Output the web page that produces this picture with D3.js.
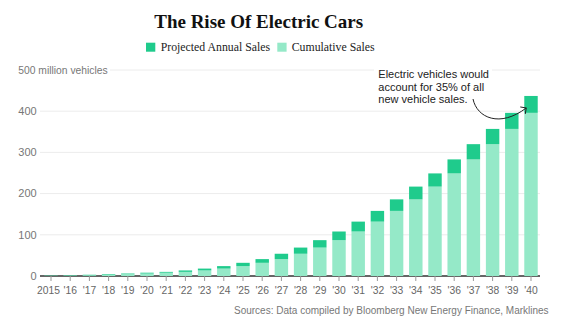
<!DOCTYPE html>
<html>
<head>
<meta charset="utf-8">
<script src="https://cdn.jsdelivr.net/npm/d3@7/dist/d3.min.js"></script>
<style>
  html, body { margin: 0; padding: 0; background: #fff; }
  svg { display: block; }
</style>
</head>
<body>
<svg id="chart" width="561" height="323"></svg>
<script>
// Years shown on the axis
const years = ["2015","'16","'17","'18","'19","'20","'21","'22","'23","'24","'25","'26","'27",
               "'28","'29","'30","'31","'32","'33","'34","'35","'36","'37","'38","'39","'40"];
// Cumulative EV sales through the prior year (million vehicles)
const cumulative = [0.6, 1.2, 2, 3, 4.5, 6, 8, 10, 13.5, 18, 24, 32, 41,
                    54, 69, 87, 108, 132, 158, 186, 217, 249, 283, 320, 357, 396];
// Projected sales in the year itself (million vehicles)
const annual = [0.6, 0.8, 1, 1.5, 1.5, 2, 2, 3.5, 4.5, 6, 8, 9, 13,
                15, 18, 21, 24, 26, 28, 31, 32, 34, 37, 37, 39, 41];
const yTicks = [0, 100, 200, 300, 400, 500];
const seriesNames = ["Projected Annual Sales", "Cumulative Sales"];
const seriesColors = ["#1fcb8c", "#95e9c8"];

const svg = d3.select("#chart");
const sans = "'Liberation Sans', Arial, sans-serif";
const serif = "'Liberation Serif', 'Times New Roman', serif";

const x = d3.scaleBand().domain(years).range([41.4, 540.6]).paddingInner(0.3).paddingOuter(0.15);
const y = d3.scaleLinear().domain([0, 500]).range([276, 70]);

// Title
svg.append("text")
  .attr("x", 258.7).attr("y", 28)
  .attr("text-anchor", "middle")
  .style("font-family", serif).style("font-weight", "bold").style("font-size", "19px")
  .attr("fill", "#111")
  .text("The Rise Of Electric Cars");

// Legend
const legendPos = [{sx: 146, tx: 160.7}, {sx: 277.3, tx: 291.7}];
seriesNames.forEach((name, i) => {
  svg.append("rect").attr("x", legendPos[i].sx).attr("y", 42.7).attr("width", 9.3).attr("height", 9)
    .attr("fill", seriesColors[i]);
  svg.append("text").attr("x", legendPos[i].tx).attr("y", 51)
    .style("font-family", serif).style("font-size", "11.8px").attr("fill", "#222")
    .text(name);
});

// Gridlines
svg.append("g").selectAll("line").data(yTicks.filter(t => t > 0)).join("line")
  .attr("x1", d => d === 500 ? 110 : 40).attr("x2", 540)
  .attr("y1", d => y(d)).attr("y2", d => y(d))
  .attr("stroke", "#ececec").attr("stroke-width", 1);

// Y labels
svg.append("g").selectAll("text").data(yTicks).join("text")
  .attr("x", d => d === 500 ? 18.3 : 36.7)
  .attr("y", d => y(d)).attr("dy", "0.35em")
  .attr("text-anchor", d => d === 500 ? "start" : "end")
  .style("font-family", sans).style("font-size", d => d === 500 ? "10.3px" : "11px").attr("fill", "#777")
  .text(d => d === 500 ? "500 million vehicles" : d);

// Baseline and ticks
svg.append("line").attr("x1", 40).attr("x2", 540).attr("y1", y(0)).attr("y2", y(0))
  .attr("stroke", "#333").attr("stroke-width", 1.5);
const xAxis = d3.axisBottom(x).tickSize(5).tickSizeOuter(0).tickPadding(6);
const axG = svg.append("g").attr("transform", `translate(0,${y(0)})`).call(xAxis);
axG.select(".domain").remove();
axG.selectAll(".tick line").attr("stroke", "#999");
axG.selectAll(".tick text").style("font-family", sans).style("font-size", "10.3px").attr("fill", "#666")
  .attr("dx", (d, i) => i === 0 ? -2.5 : 0);

// Stacked bars: cumulative at the bottom, annual on top
const bars = svg.append("g");
years.forEach((yr, i) => {
  const c = cumulative[i], a = annual[i];
  bars.append("rect").attr("x", x(yr)).attr("width", x.bandwidth())
    .attr("y", y(c)).attr("height", y(0) - y(c))
    .attr("fill", seriesColors[1]);
  bars.append("rect").attr("x", x(yr)).attr("width", x.bandwidth())
    .attr("y", y(c + a)).attr("height", y(c) - y(c + a))
    .attr("fill", seriesColors[0]);
});

// Annotation
const noteLines = ["Electric vehicles would", "account for 35% of all", "new vehicle sales."];
svg.append("rect").attr("x", 374).attr("y", 64).attr("width", 118).attr("height", 12).attr("fill", "#fff");
svg.append("g").selectAll("text").data(noteLines).join("text")
  .attr("x", 378.3).attr("y", (d, i) => 78.3 + i * 12.2)
  .style("font-family", sans).style("font-size", "11px").attr("fill", "#222")
  .text(d => d);

const last = years.length - 1;
const tipX = x(years[last]) + 2, tipY = y(cumulative[last] + annual[last]) + 12;
svg.append("path")
  .attr("d", `M473,99 C477,118 500,128 ${tipX},${tipY}`)
  .attr("fill", "none").attr("stroke", "#222").attr("stroke-width", 1);
svg.append("path")
  .attr("d", `M${tipX - 6},${tipY - 1} L${tipX},${tipY} L${tipX - 1},${tipY + 6}`)
  .attr("fill", "none").attr("stroke", "#222").attr("stroke-width", 1);

// Source
svg.append("text").attr("x", 548.6).attr("y", 314).attr("text-anchor", "end")
  .style("font-family", sans).style("font-size", "10px").attr("fill", "#777")
  .text("Sources: Data compiled by Bloomberg New Energy Finance, Marklines");
</script>
</body>
</html>
